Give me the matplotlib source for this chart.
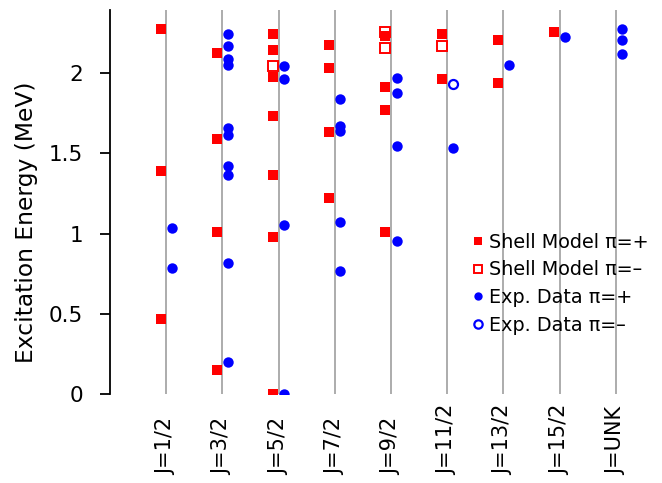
import numpy as np
import matplotlib
matplotlib.use('Agg')
import matplotlib.pyplot as plt

plt.rcParams['font.family'] = ['DejaVu Sans']

# ===============================================================================
# data (energies in MeV)

spins = ['J=1/2', 'J=3/2', 'J=5/2', 'J=7/2', 'J=9/2', 'J=11/2', 'J=13/2', 'J=15/2', 'J=UNK']

# shell model, positive parity (filled squares)
sm_pos_j = [1, 1, 1,
            2, 2, 2, 2,
            3, 3, 3, 3, 3, 3, 3,
            4, 4, 4, 4,
            5, 5, 5, 5,
            6, 6,
            7, 7,
            8]
sm_pos_e = [2.276, 1.39, 0.468,
            2.128, 1.592, 1.01, 0.15,
            2.246, 2.147, 1.978, 1.735, 1.367, 0.981, 0.0,
            2.174, 2.035, 1.633, 1.224,
            2.234, 1.914, 1.773, 1.01,
            2.246, 1.964,
            2.209, 1.941,
            2.259]

# shell model, negative parity (open squares)
sm_neg_j = [3, 5, 5, 6]
sm_neg_e = [2.047, 2.255, 2.159, 2.172]

# experiment, positive parity (filled circles)
exp_pos_j = [1, 1,
             2, 2, 2, 2, 2, 2, 2, 2, 2, 2,
             3, 3, 3, 3,
             4, 4, 4, 4, 4,
             5, 5, 5, 5,
             6,
             7,
             8,
             9, 9, 9]
exp_pos_e = [1.037, 0.784,
             2.244, 2.17, 2.087, 2.049, 1.66, 1.615, 1.423, 1.367, 0.819, 0.201,
             2.043, 1.964, 1.054, 0.0,
             1.837, 1.671, 1.64, 1.07, 0.765,
             1.972, 1.875, 1.546, 0.954,
             1.536,
             2.053,
             2.228,
             2.278, 2.207, 2.118]

# experiment, negative parity (open circles)
exp_neg_j = [6]
exp_neg_e = [1.933]

# ===============================================================================

fig = plt.figure(figsize=(6.62, 4.83), dpi=100)
ax = fig.add_axes([0.1662, 0.1843, 0.8338, 0.795])

ymax = 2.395
ax.set_xlim(0, 9.82)
ax.set_ylim(0, ymax)

# gray guide line for every J
xs = np.arange(1, len(spins) + 1)
ax.vlines(xs, 0, ymax, colors='#a6a6a6', lw=1.3, zorder=0)

dx = 0.1
ax.plot(np.array(sm_neg_j) - dx, sm_neg_e, ls='none', marker='s', ms=6.5,
        mfc='white', mec='#ff0000', mew=1.4, zorder=2, label='Shell Model π=\u2013')
ax.plot(np.array(sm_pos_j) - dx, sm_pos_e, ls='none', marker='s', ms=7.2,
        mfc='#ff0000', mec='#ff0000', mew=0, zorder=3, label='Shell Model π=+')
ax.plot(np.array(exp_pos_j) + dx, exp_pos_e, ls='none', marker='o', ms=7.5,
        mfc='#0000ff', mec='#0000ff', mew=0, zorder=3, label='Exp. Data π=+')
ax.plot(np.array(exp_neg_j) + dx, exp_neg_e, ls='none', marker='o', ms=6.5,
        mfc='white', mec='#0000ff', mew=1.6, zorder=3, label='Exp. Data π=\u2013')

# ===============================================================================

for s in ['top', 'right', 'bottom']:
    ax.spines[s].set_visible(False)
ax.spines['left'].set_linewidth(1.3)

ax.set_yticks([0, 0.5, 1, 1.5, 2])
ax.set_yticklabels(['0', '0.5', '1', '1.5', '2'])
ax.tick_params(axis='y', direction='out', length=7, width=1.3, pad=12.5, labelsize=15.5)
ax.set_xticks(xs)
ax.set_xticklabels(spins, rotation=90, fontsize=15)
# labels sit on the bottom edge, like the original
ax.tick_params(axis='x', length=0, pad=58.5)
plt.setp(ax.get_xticklabels(), va='bottom')

ax.set_ylabel('Excitation Energy (MeV)', fontsize=16.8)
ax.yaxis.set_label_coords(-0.130, 0.448)

h, l = ax.get_legend_handles_labels()
order = [1, 0, 2, 3]
lg = ax.legend([h[i] for i in order], [l[i] for i in order], loc='upper left',
               bbox_to_anchor=(0.656, 0.42), frameon=False, fontsize=13.8,
               handlelength=0.6, handletextpad=0.3, labelspacing=0.45, borderpad=0,
               borderaxespad=0)
for hnd in lg.legend_handles:
    hnd.set_markersize(6)

plt.savefig('out.png', dpi=100)
plt.close()
